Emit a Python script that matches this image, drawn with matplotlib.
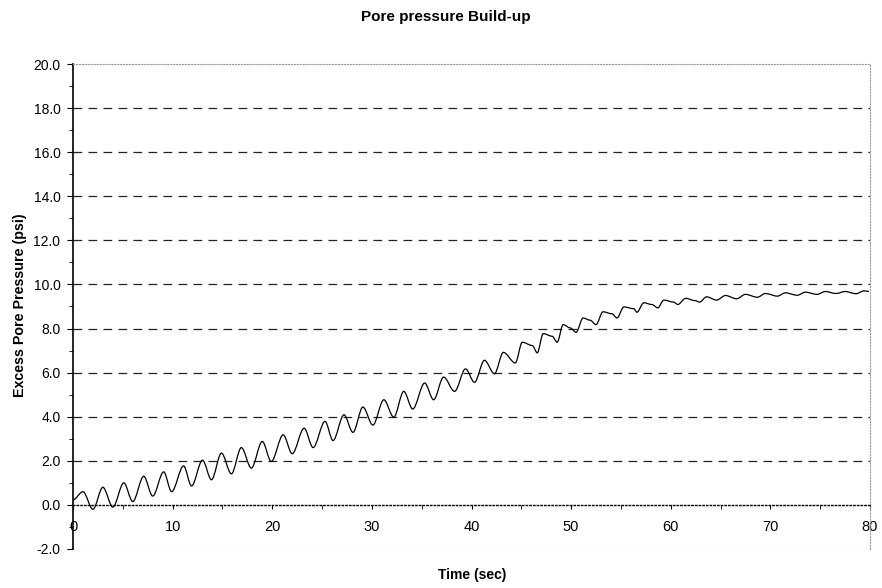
import matplotlib
matplotlib.use("Agg")
import matplotlib.pyplot as plt
from matplotlib.path import Path
from matplotlib.patches import PathPatch
from matplotlib.ticker import MultipleLocator, FormatStrFormatter

plt.rcParams["font.family"] = ["Liberation Sans", "DejaVu Sans"]

# peaks, troughs and shoulders
time_s = [
    0.0, 1.0, 2.0, 3.0, 4.0, 5.1, 6.0, 7.1, 8.0, 9.1,
    9.9, 11.1, 11.9, 13.0, 13.9, 14.9, 15.9, 16.9, 17.9, 19.0,
    19.9, 21.1, 22.0, 23.2, 24.1, 25.3, 26.1, 27.2, 28.1, 29.1,
    30.1, 31.2, 32.2, 33.2, 34.1, 35.3, 36.2, 37.2, 38.3, 39.4,
    40.3, 41.3, 42.3, 43.2, 44.4, 45.1, 46.1, 46.6, 47.2, 48.1,
    48.6, 49.2, 49.9, 50.5, 51.2, 51.9, 52.5, 53.2, 54.1, 54.6,
    55.3, 56.3, 56.6, 57.3, 58.1, 58.7, 59.3, 60.3, 60.7, 61.5,
    62.4, 62.9, 63.6, 64.6, 65.5, 66.6, 67.5, 68.7, 69.5, 70.7,
    71.5, 72.7, 73.5, 74.7, 75.5, 76.6, 77.5, 78.6, 79.4, 79.9,
]
pore_psi = [
    0.23, 0.60, -0.20, 0.80, -0.10, 1.00, 0.15, 1.30, 0.40, 1.50,
    0.60, 1.77, 0.86, 2.03, 1.14, 2.35, 1.41, 2.60, 1.67, 2.88,
    1.97, 3.18, 2.32, 3.48, 2.60, 3.79, 2.92, 4.09, 3.29, 4.44,
    3.62, 4.77, 3.98, 5.15, 4.35, 5.53, 4.77, 5.80, 5.15, 6.17,
    5.56, 6.56, 5.95, 6.92, 6.44, 7.38, 7.23, 6.90, 7.77, 7.65,
    7.38, 8.18, 8.03, 7.83, 8.48, 8.38, 8.18, 8.76, 8.67, 8.48,
    8.98, 8.90, 8.74, 9.17, 9.09, 8.94, 9.29, 9.20, 9.09, 9.37,
    9.27, 9.20, 9.44, 9.29, 9.50, 9.35, 9.55, 9.42, 9.59, 9.47,
    9.62, 9.51, 9.65, 9.55, 9.68, 9.59, 9.68, 9.58, 9.71, 9.68,
]

x_ticks = [0, 10, 20, 30, 40, 50, 60, 70, 80]
y_ticks = [-2, 0, 2, 4, 6, 8, 10, 12, 14, 16, 18, 20]
grid_levels = [2, 4, 6, 8, 10, 12, 14, 16, 18]

fig = plt.figure(figsize=(8.82, 5.88), dpi=100)
ax = fig.add_axes([73 / 882, 1 - 549 / 588, 797 / 882, 485 / 588])

# smoothed line like the spreadsheet's: cubic segments with flat tangents
# at each read point
verts = [(time_s[0], pore_psi[0])]
codes = [Path.MOVETO]
for i in range(len(time_s) - 1):
    x0, y0 = time_s[i], pore_psi[i]
    x1, y1 = time_s[i + 1], pore_psi[i + 1]
    dx = (x1 - x0) / 3
    verts += [(x0 + dx, y0), (x1 - dx, y1), (x1, y1)]
    codes += [Path.CURVE4] * 3
ax.add_patch(PathPatch(Path(verts, codes), fill=False, edgecolor="black",
                       lw=0.9, zorder=3))

for lev in grid_levels:
    ax.axhline(lev, color="#222222", lw=0.9, ls=(0, (7, 5)), zorder=1)

ax.set_xlim(0, 80)
ax.set_ylim(-2, 20)

# x axis crosses at zero, faint frame around the rest
ax.spines["bottom"].set_position(("data", 0))
ax.spines["bottom"].set_linestyle(":")
ax.spines["bottom"].set_linewidth(1.0)
for side in ("top", "right"):
    ax.spines[side].set_linestyle(":")
    ax.spines[side].set_color("#9a9a9a")
    ax.spines[side].set_linewidth(0.8)
ax.axhline(-2, color="#9a9a9a", lw=0.8, ls=":", zorder=1)
ax.spines["left"].set_linewidth(1.2)

ax.set_xticks(x_ticks)
ax.xaxis.set_minor_locator(MultipleLocator(5))
ax.set_yticks(y_ticks)
ax.yaxis.set_minor_locator(MultipleLocator(1))
ax.yaxis.set_major_formatter(FormatStrFormatter("%.1f"))

ax.tick_params(axis="x", which="both", direction="out", length=3,
               labelsize=10.5, pad=8)
ax.tick_params(axis="y", which="major", direction="out", length=4,
               labelsize=10, pad=5)
ax.tick_params(axis="y", which="minor", direction="out", length=3)

fig.text(446 / 882, 1 - 17 / 588, "Pore pressure Build-up", ha="center",
         va="center", fontsize=11, fontweight="bold")
fig.text(472 / 882, 1 - 575 / 588, "Time (sec)", ha="center", va="center",
         fontsize=10, fontweight="bold")
fig.text(20 / 882, 1 - 305 / 588, "Excess Pore Pressure (psi)", ha="center",
         va="center", rotation=90, fontsize=10.3, fontweight="bold")

fig.savefig("out.png", dpi=100, facecolor="white")
